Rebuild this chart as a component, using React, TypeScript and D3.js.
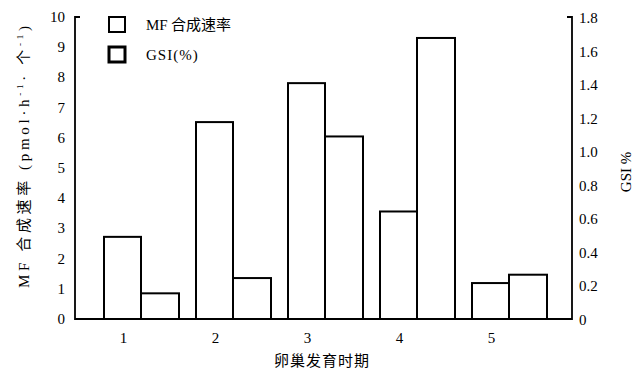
import React from "react";
import * as d3 from "d3";

const stages = ["1", "2", "3", "4", "5"];
const mfRate = [2.72, 6.52, 7.81, 3.56, 1.19];
const gsi = [0.153, 0.244, 1.088, 1.675, 0.264];
const leftTicks = [0, 1, 2, 3, 4, 5, 6, 7, 8, 9, 10];
const rightTicks = [0, 0.2, 0.4, 0.6, 0.8, 1.0, 1.2, 1.4, 1.6, 1.8];
const legendLabels = ["MF 合成速率", "GSI(%)"];

const W = 640, H = 370;
const left = 75, right = 572, top = 17, bottom = 319;
const serif = "'Liberation Serif', 'DejaVu Serif', serif";
const cjk = "'Noto Sans CJK SC', sans-serif";

export default function App() {
  const yL = d3.scaleLinear().domain([0, 10]).range([bottom, top]);
  const yR = d3.scaleLinear().domain([0, 1.8]).range([bottom, top]);
  const x = d3.scaleBand().domain(stages).range([104, 564]).padding(0);
  const bw = 37;
  const x0 = (s: string) => x(s) as number;

  return (
    <svg width={W} height={H} style={{ position: "absolute", left: 0, top: 0, background: "#fff" }}>
      <rect x={0} y={0} width={W} height={H} fill="#fff" />
      {/* axes */}
      <path d={`M${left + 5},${top} H${left} V${bottom} H${right} V${top} H${right - 5}`} fill="none" stroke="#000" strokeWidth={1.8} />
      {/* bars */}
      {stages.map((s, i) => (
        <g key={s}>
          <rect x={x0(s)} y={yL(mfRate[i])} width={bw} height={bottom - yL(mfRate[i])} fill="#fff" stroke="#000" strokeWidth={2} />
          <rect x={x0(s) + bw} y={yR(gsi[i])} width={bw + 1} height={bottom - yR(gsi[i])} fill="#fff" stroke="#000" strokeWidth={2} />
          <text x={x0(s) + bw / 2 + 1} y={343} fontFamily={serif} fontSize={15} textAnchor="middle">{s}</text>
        </g>
      ))}
      {/* left ticks */}
      {leftTicks.map((t) => (
        <text key={t} x={65} y={yL(t) + 5} fontFamily={serif} fontSize={15} textAnchor="end">{t}</text>
      ))}
      {rightTicks.map((t) => (
        <text key={t} x={579} y={yR(t) + 6} fontFamily={serif} fontSize={15} textAnchor="start">{t === 0 ? "0" : t.toFixed(1)}</text>
      ))}
      {/* left title */}
      <text transform={`translate(29,${157}) rotate(-90)`} fontFamily={cjk} fontSize={15} textAnchor="middle" textLength={262} lengthAdjust="spacing">
        <tspan fontFamily={serif}>MF</tspan>
        <tspan> 合成速率 </tspan>
        <tspan fontFamily={serif}>(pmol·h</tspan>
        <tspan fontFamily={serif} fontSize={9} dy={-6}>-1</tspan>
        <tspan fontFamily={serif} dy={6}>· </tspan>
        <tspan>个</tspan>
        <tspan fontFamily={serif} fontSize={9} dy={-6}>-1</tspan>
        <tspan fontFamily={serif} dy={6}>)</tspan>
      </text>
      {/* right title */}
      <text transform={`translate(631,${172}) rotate(-90)`} fontFamily={serif} fontSize={15} textAnchor="middle">GSI %</text>
      {/* x title */}
      <text x={322} y={366} fontFamily={cjk} fontSize={15} textAnchor="middle" letterSpacing={1}>卵巢发育时期</text>
      {/* legend */}
      <rect x={109} y={17} width={16} height={15} fill="#fff" stroke="#000" strokeWidth={2} />
      <text x={146} y={30} fontFamily={cjk} fontSize={15}>
        <tspan fontFamily={serif}>MF</tspan>
        <tspan> 合成速率</tspan>
      </text>
      <rect x={109} y={47} width={16} height={15} fill="#fff" stroke="#000" strokeWidth={3} />
      <text x={146} y={60} fontFamily={serif} fontSize={15} letterSpacing={1}>{legendLabels[1]}</text>
    </svg>
  );
}
